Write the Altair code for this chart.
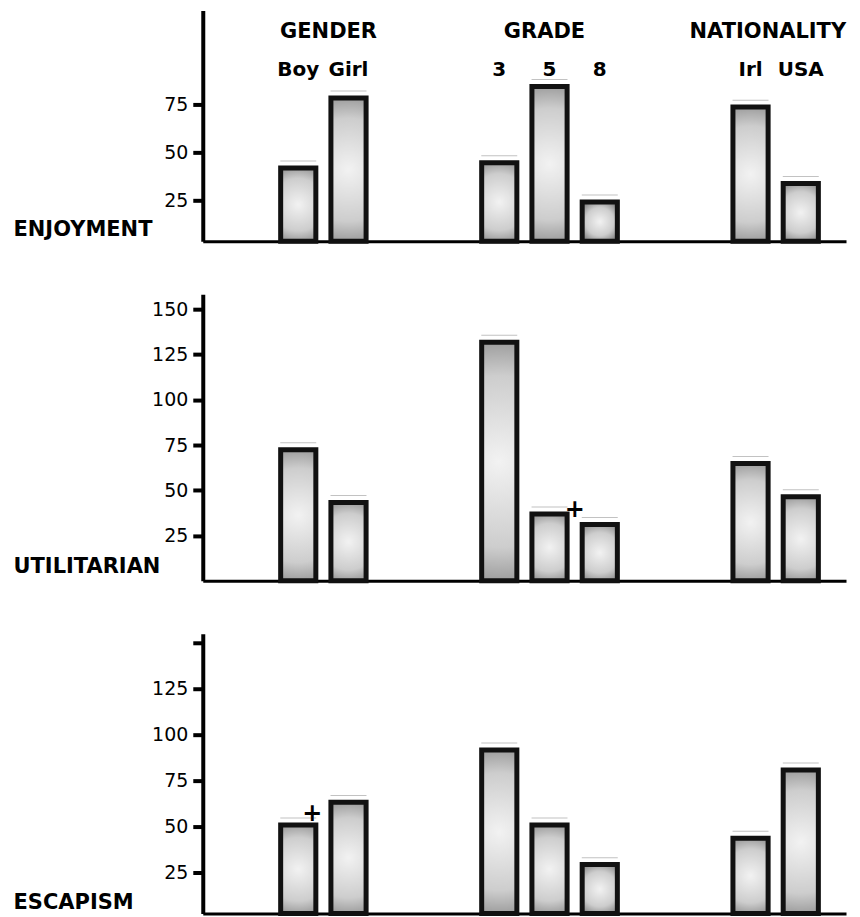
import altair as alt
import pandas as pd

# ---- data ----
categories = ["Boy", "Girl", "3", "5", "8", "Irl", "USA"]
enjoyment = [41.8, 78.3, 44.6, 84.4, 24.1, 73.6, 33.7]
utilitarian = [72.4, 43.3, 131.8, 36.9, 31.1, 64.8, 46.5]
escapism = [50.9, 63.2, 91.7, 50.9, 29.3, 43.6, 80.8]

# band slots (blank slots make the gaps between the groups)
slots = ["_a", "Boy", "Girl", "_b", "_c", "3", "5", "8", "_d", "_e", "Irl", "USA"]

group_names = ["GENDER", "GRADE", "NATIONALITY"]
group_anchor = ["Girl", "5", "USA"]

# significance markers (+)
plus_util_cat = ["8"]
plus_util_val = [39.3]
plus_esc_cat = ["Boy"]
plus_esc_val = [57.0]

FONT = "DejaVu Sans"
W = 644

grad = alt.Gradient(
    gradient="radial",
    stops=[
        alt.GradientStop(color="#f2f2f2", offset=0),
        alt.GradientStop(color="#cdcdcd", offset=0.5),
        alt.GradientStop(color="#555555", offset=1),
    ],
    x1=0.5, y1=0.5, x2=0.5, y2=0.5, r1=0, r2=0.72,
)


def panel(name, values, ymin, ymax, ticks, height, title_y, plus_cat=None, plus_val=None,
          header=False, hide_top=False):
    df = pd.DataFrame({"cat": categories, "v": values})
    xenc = alt.X(
        "cat:N",
        scale=alt.Scale(domain=slots, paddingInner=0.3, paddingOuter=0.55),
        axis=alt.Axis(title=None, labels=False, ticks=False, domainWidth=3,
                      domainColor="black"),
    )
    label_expr = "datum.value >= 150 ? '' : datum.label" if hide_top else "datum.label"
    yenc = alt.Y(
        "v:Q",
        scale=alt.Scale(domain=[ymin, ymax], nice=False, zero=False),
        axis=alt.Axis(
            values=ticks, labelExpr=label_expr, grid=False,
            title=name, titleAngle=0, titleAlign="left", titleBaseline="alphabetic",
            titleX=-190, titleY=title_y, titleFont=FONT, titleFontSize=21,
            titleFontWeight="bold", titleColor="black",
            domainWidth=4, domainColor="black", tickColor="black", tickWidth=4,
            tickSize=10, labelFont=FONT, labelFontSize=19, labelColor="black",
            labelPadding=5,
        ),
    )
    bars = alt.Chart(df).mark_bar(fill=grad, stroke="#111111", strokeWidth=5).encode(
        x=xenc, y=yenc, y2=alt.datum(ymin)
    )
    tops = alt.Chart(df).mark_tick(
        color="#a8a8a8", thickness=1, size=36, yOffset=-7, strokeDash=[7, 3]
    ).encode(x="cat:N", y="v:Q")
    layers = [bars, tops]
    if plus_cat is not None:
        pdf = pd.DataFrame({"cat": plus_cat, "v": plus_val})
        dx = -25 if plus_cat[0] == "8" else 14
        layers.append(
            alt.Chart(pdf).mark_text(text="+", font=FONT, fontSize=24, fontWeight="bold",
                                     baseline="middle", dx=dx, color="black")
            .encode(x="cat:N", y="v:Q")
        )
    if header:
        hdx = [-20, -5, -33]
        for g, a, d in zip(group_names, group_anchor, hdx):
            hdf = pd.DataFrame({"cat": [a], "t": [g]})
            layers.append(
                alt.Chart(hdf).mark_text(font=FONT, fontSize=21, fontWeight="bold",
                                         baseline="alphabetic", dx=d, color="black")
                .encode(x="cat:N", y=alt.value(27), text="t:N")
            )
        ldf = pd.DataFrame({"cat": categories, "t": categories})
        layers.append(
            alt.Chart(ldf).mark_text(font=FONT, fontSize=20, fontWeight="bold",
                                     baseline="alphabetic", color="black")
            .encode(x="cat:N", y=alt.value(66), text="t:N")
        )
    return alt.layer(*layers).properties(width=W, height=height)


p1 = panel("ENJOYMENT", enjoyment, 3.6, 124, [25, 50, 75], 231, 225, header=True)
p2 = panel("UTILITARIAN", utilitarian, 0, 158.3, [25, 50, 75, 100, 125, 150], 287, 279,
           plus_cat=plus_util_cat, plus_val=plus_util_val)
p3 = panel("ESCAPISM", escapism, 2.7, 155, [25, 50, 75, 100, 125, 150], 280, 275,
           plus_cat=plus_esc_cat, plus_val=plus_esc_val, hide_top=True)

chart = (
    alt.vconcat(p1, p2, p3, spacing=50)
    .properties(padding={"top": 2, "left": 5, "right": 5, "bottom": 2},
                background="white")
    .configure_view(stroke="transparent", strokeWidth=0)
)

chart.save("out.html", embed_options={"renderer": "svg", "actions": False})
